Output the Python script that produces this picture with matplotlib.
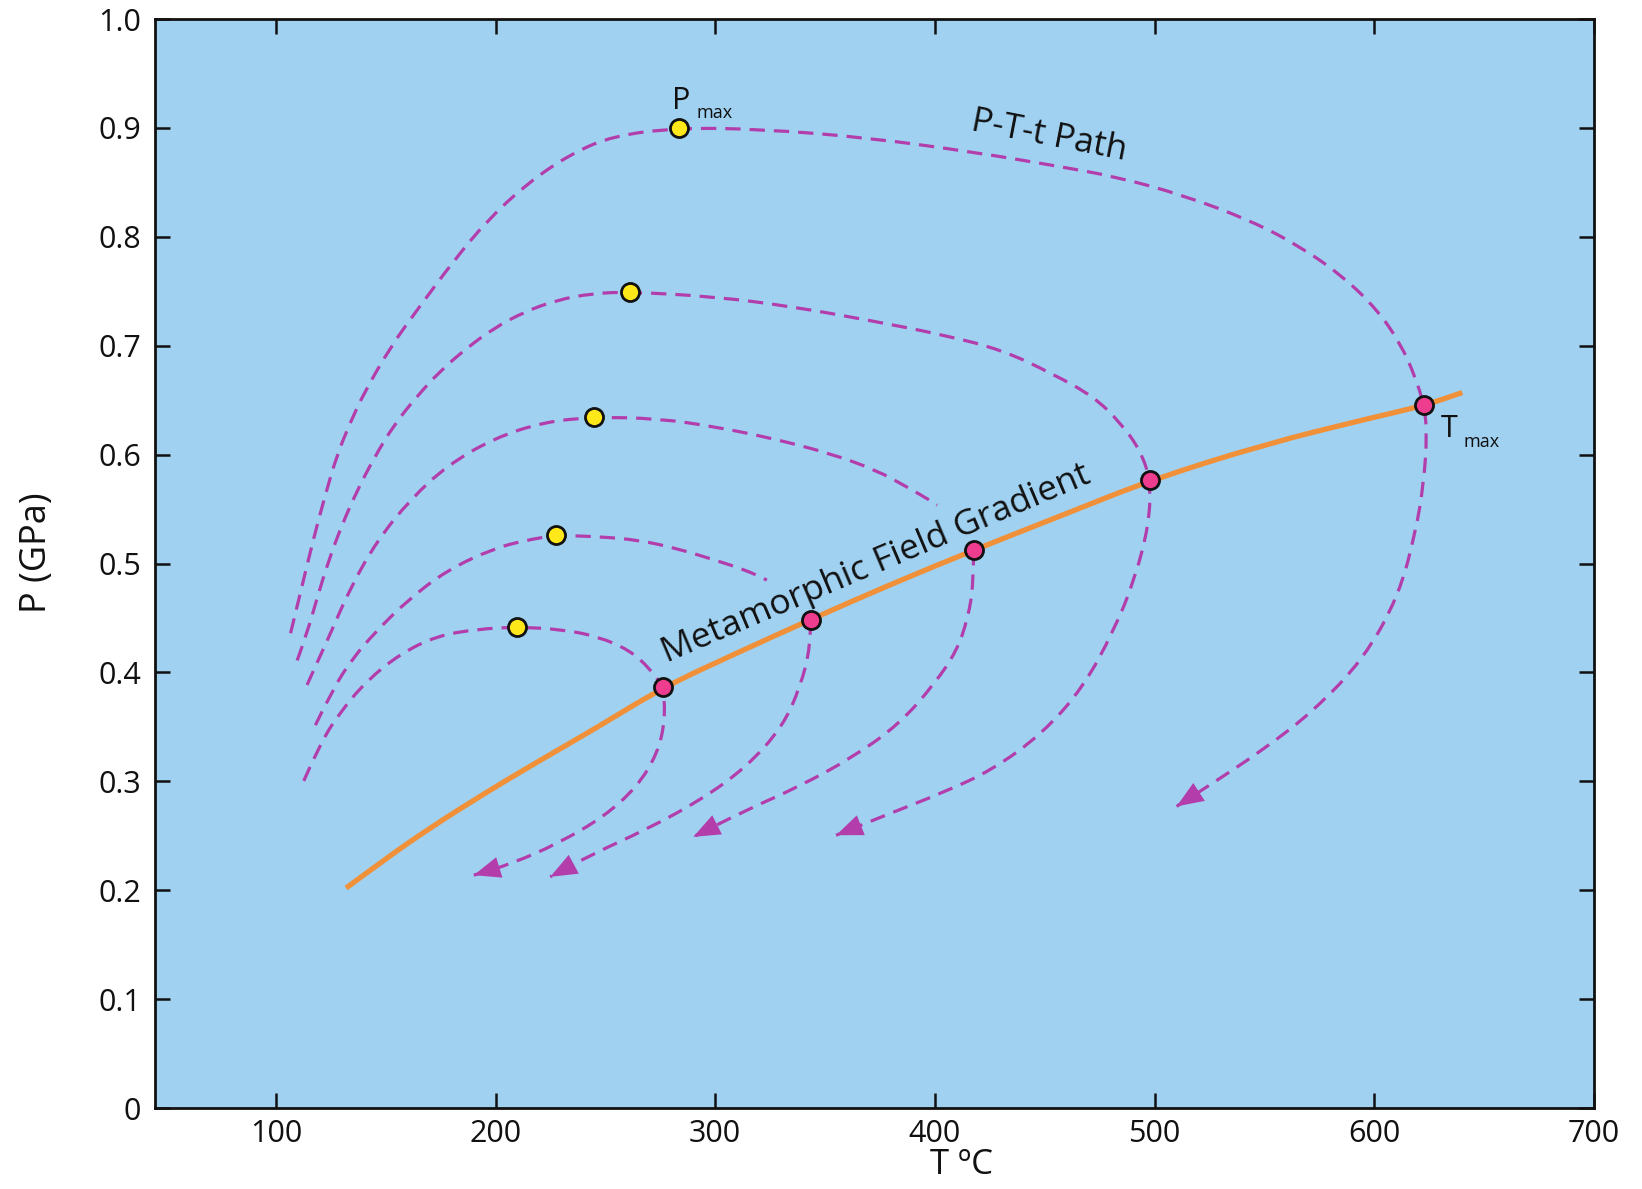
import matplotlib.pyplot as plt
from matplotlib.path import Path
from matplotlib.patches import PathPatch

plt.rcParams['font.family'] = ['Open Sans', 'DejaVu Sans']
plt.rcParams['lines.scale_dashes'] = False

# metamorphic field gradient (orange line)
grad_T = [132, 150, 170, 195, 220, 245, 276.4, 310, 343.4, 380, 417.6, 460, 498.1, 551, 597, 622.6, 640]
grad_P = [0.202, 0.229, 0.257, 0.289, 0.319, 0.348, 0.3865, 0.418, 0.4486, 0.481, 0.5123, 0.546, 0.5766, 0.610, 0.633, 0.645, 0.657]

# P-T-t paths (outer -> inner)
a_T = [106.7, 112, 117.3, 122.5, 127.9, 134, 140, 152.2, 165.8, 181, 196.2, 214.4, 234.1, 253.8, 283.4,
       320, 370, 420, 452.6, 483, 513.3, 543.6, 566.4, 586.1, 601.3, 611.9, 618.7, 622.6,
       624, 622.5, 618.7, 611, 595, 572, 550, 530, 510]
a_P = [0.436, 0.480, 0.524, 0.563, 0.600, 0.630, 0.656, 0.699, 0.737, 0.778, 0.815, 0.849, 0.876, 0.893, 0.900,
       0.899, 0.891, 0.877, 0.866, 0.855, 0.838, 0.815, 0.791, 0.763, 0.733, 0.702, 0.671, 0.6454,
       0.620, 0.574, 0.528, 0.470, 0.412, 0.364, 0.330, 0.303, 0.277]

b_T = [109.7, 114.2, 119, 124.1, 130, 137, 145, 153.7, 164, 174.9, 187, 199.2, 213, 228, 244, 261.1,
       300, 334.8, 369.7, 404.5, 430.7, 453.3, 472.5, 484.7, 493.4, 498.1,
       497.5, 490.8, 481.5, 467.6, 449, 425.8, 402.6, 379.4, 355]
b_P = [0.411, 0.436, 0.470, 0.503, 0.535, 0.567, 0.598, 0.627, 0.653, 0.677, 0.698, 0.716, 0.731, 0.742, 0.748, 0.7495,
       0.745, 0.736, 0.7235, 0.7097, 0.696, 0.6745, 0.653, 0.6286, 0.6042, 0.5766,
       0.5365, 0.4847, 0.4388, 0.3867, 0.344, 0.310, 0.2888, 0.2704, 0.2505]

c_up_T = [114.2, 119, 124.9, 134, 146.1, 161.3, 178, 199.2, 222, 244.7, 273.9, 300, 326.1, 352.3, 373.2, 387.1, 397.6, 401]
c_up_P = [0.3885, 0.410, 0.436, 0.478, 0.521, 0.559, 0.590, 0.615, 0.630, 0.6345, 0.6332, 0.6256, 0.6149,
          0.6011, 0.5858, 0.5705, 0.5582, 0.5536]
c_lo_T = [417.6, 417.5, 415, 410, 400, 384, 363, 338, 314, 290]
c_lo_P = [0.5123, 0.48, 0.45, 0.42, 0.39, 0.353, 0.3225, 0.295, 0.2735, 0.249]

d_up_T = [118, 126, 135, 145.3, 159.8, 178, 199.2, 213, 227.3, 247.8, 265.2, 282.6, 300, 314, 323.5]
d_up_P = [0.3516, 0.385, 0.413, 0.437, 0.466, 0.494, 0.5138, 0.521, 0.526, 0.5246, 0.5215, 0.5138, 0.5031, 0.4939, 0.4848]
d_lo_T = [343.4, 343.4, 338.7, 330.6, 314.3, 293.4, 267.9, 244.7, 224.9]
d_lo_P = [0.4486, 0.4235, 0.3867, 0.35, 0.3133, 0.2827, 0.2551, 0.2337, 0.2123]

e_T = [112.7, 120.3, 129.4, 141.5, 156.7, 173.4, 191.6, 209.8, 230.7, 247, 261, 270.2, 276.4, 277.2, 273.7,
       264.4, 249.3, 228.4, 207.5, 190.1]
e_P = [0.3004, 0.3352, 0.3639, 0.3926, 0.4172, 0.4336, 0.4397, 0.4418, 0.4394, 0.4327, 0.4204, 0.4036, 0.3865,
       0.3561, 0.3255, 0.2949, 0.2674, 0.2429, 0.2245, 0.2138]

# peak pressure (yellow) and peak temperature (pink) points
pmax_T = [283.4, 261.1, 244.7, 227.3, 209.8]
pmax_P = [0.900, 0.749, 0.6345, 0.526, 0.4418]
tmax_T = [276.4, 343.4, 417.6, 498.1, 622.6]
tmax_P = [0.3865, 0.4486, 0.5123, 0.5766, 0.6454]

x_ticks = [100, 200, 300, 400, 500, 600, 700]
y_ticks = [0, 0.1, 0.2, 0.3, 0.4, 0.5, 0.6, 0.7, 0.8, 0.9, 1.0]
y_labels = ["0", "0.1", "0.2", "0.3", "0.4", "0.5", "0.6", "0.7", "0.8", "0.9", "1.0"]

bg = "#A0D1F1"
purple = "#B23DAB"
orange = "#F0913A"
ink = "#111111"


def smooth(T, P):
    # quadratic bezier through the midpoints, read points act as control points
    pts = list(zip(T, P))
    verts = [pts[0]]
    codes = [Path.MOVETO]
    for i in range(1, len(pts) - 1):
        mid = ((pts[i][0] + pts[i + 1][0]) / 2, (pts[i][1] + pts[i + 1][1]) / 2)
        verts += [pts[i], mid]
        codes += [Path.CURVE3, Path.CURVE3]
    verts.append(pts[-1])
    codes.append(Path.LINETO)
    return Path(verts, codes)


fig = plt.figure(figsize=(16.42, 11.89), dpi=100)
ax = fig.add_axes([0.0944, 0.0681, 0.8764, 0.9159])
ax.set_facecolor(bg)

ax.add_patch(PathPatch(smooth(grad_T, grad_P), fill=False, ec=orange, lw=3.8, capstyle="butt", zorder=3))

paths = [(a_T, a_P), (b_T, b_P), (c_up_T, c_up_P), (c_lo_T, c_lo_P),
         (d_up_T, d_up_P), (d_lo_T, d_lo_P), (e_T, e_P)]
for T, P in paths:
    ax.add_patch(PathPatch(smooth(T, P), fill=False, ec=purple, lw=2.3,
                           linestyle=(0, (11, 6.5)), zorder=2))

# arrow heads at the end of each path
for T, P in [(a_T, a_P), (b_T, b_P), (c_lo_T, c_lo_P), (d_lo_T, d_lo_P), (e_T, e_P)]:
    ax.annotate("", xy=(T[-1], P[-1]), xytext=(T[-2], P[-2]),
                arrowprops=dict(arrowstyle="-|>,head_length=0.6,head_width=0.24",
                                mutation_scale=32, color=purple, lw=0, shrinkA=0, shrinkB=0),
                zorder=4)

ax.plot(pmax_T, pmax_P, "o", ms=13, mfc="#FFE81A", mec=ink, mew=2, zorder=5)
ax.plot(tmax_T, tmax_P, "o", ms=13, mfc="#EE3C8E", mec=ink, mew=2, zorder=5)

# labels inside the plot
ax.text(375, 0.492, "Metamorphic Field Gradient", rotation=23, rotation_mode="anchor",
        ha="center", va="baseline", fontsize=25.5, color=ink)
ax.text(451, 0.884, "P-T-t Path", rotation=-11, rotation_mode="anchor",
        ha="center", va="baseline", fontsize=25, color=ink)
ax.text(284.5, 0.917, "P", ha="center", va="baseline", fontsize=22, color=ink)
ax.text(291.6, 0.909, "max", ha="left", va="baseline", fontsize=13, color=ink)
ax.text(630, 0.616, "T", ha="left", va="baseline", fontsize=22, color=ink)
ax.text(640.5, 0.607, "max", ha="left", va="baseline", fontsize=13, color=ink)

ax.set_xlim(45, 700)
ax.set_ylim(0, 1.0)
ax.set_xticks(x_ticks)
ax.set_yticks(y_ticks)
ax.set_yticklabels(y_labels)
ax.tick_params(direction="in", length=11, width=1.8, top=True, right=True,
               labelsize=22, color=ink, labelcolor=ink)
ax.tick_params(axis="x", pad=8)
ax.tick_params(axis="y", pad=10)
for s in ax.spines.values():
    s.set_linewidth(2)
    s.set_color(ink)

fig.text(0.0223, 0.535, "P (GPa)", rotation=90, ha="center", va="center", fontsize=26, color=ink)
fig.text(0.5853, 0.0198, "T ºC", ha="center", va="center", fontsize=25, color=ink)

fig.savefig("out.png", dpi=100)
